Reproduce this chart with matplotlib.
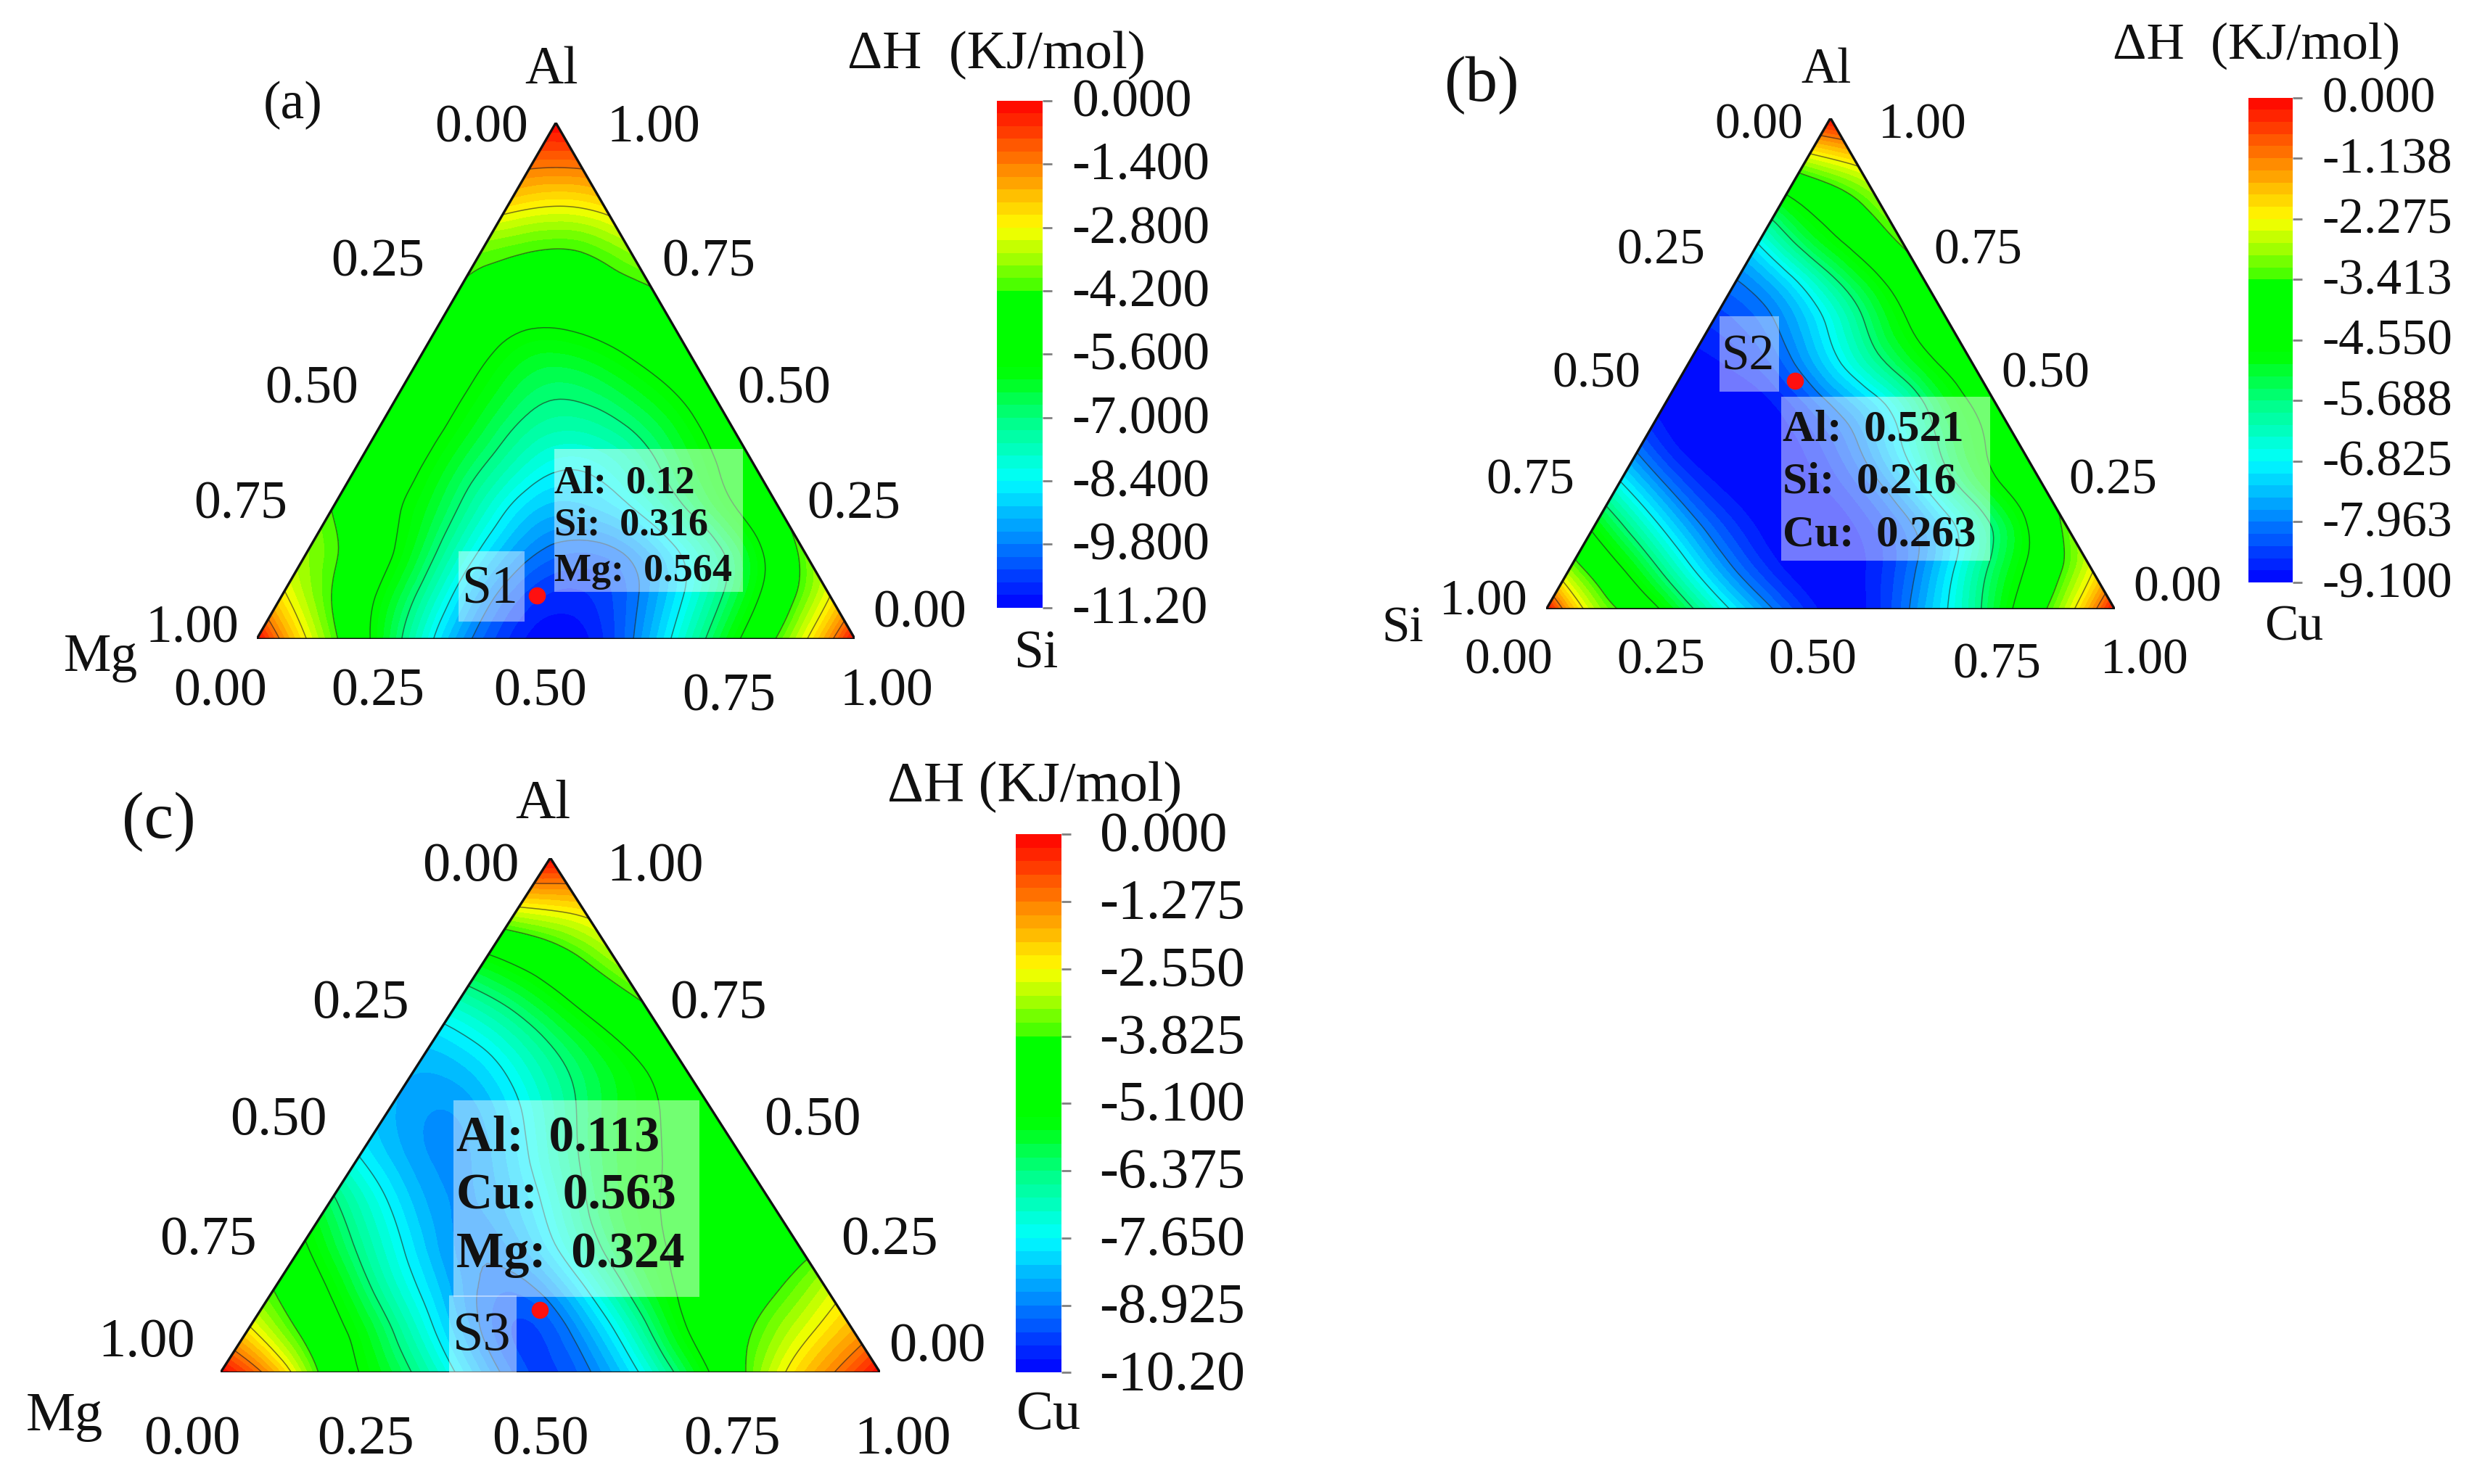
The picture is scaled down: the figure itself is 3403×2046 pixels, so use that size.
import numpy as np
import matplotlib
matplotlib.use("Agg")
import matplotlib.pyplot as plt
from matplotlib.colors import LinearSegmentedColormap
from matplotlib.patches import Rectangle
from matplotlib.transforms import ScaledTranslation
from matplotlib.tri import Triangulation, UniformTriRefiner, CubicTriInterpolator

plt.rcParams['font.family'] = ['Liberation Serif', 'DejaVu Serif']

# enthalpy, one row per Al level (0, 1/12 ... 1), left edge to right edge
rows_a = [
    [0, -2.8, -5, -7.2, -9.3, -10.6, -11.2, -10.6, -9, -7, -5, -2.9, 0],
    [-2.6, -4.2, -5.8, -7.6, -9.4, -10.5, -10.7, -10, -8.5, -6.7, -4.8, -2.8],
    [-3.6, -4.6, -6, -7.7, -9.2, -10, -10, -9.1, -7.6, -5.9, -3.9],
    [-4.2, -5.2, -6.3, -7.7, -8.9, -9.1, -8.5, -7.2, -5.8, -4.3],
    [-4.5, -5.3, -6.4, -7.5, -8.3, -8.1, -7.1, -5.9, -4.7],
    [-4.6, -5.3, -6.3, -7.2, -7.4, -6.9, -6, -4.8],
    [-4.6, -5.3, -6.2, -6.7, -6.4, -5.7, -4.8],
    [-4.5, -5.2, -5.8, -5.7, -5.2, -4.5],
    [-4.3, -4.8, -4.9, -4.7, -4.3],
    [-3.9, -4.2, -4.2, -3.6],
    [-2.6, -2.9, -2.6],
    [-1.3, -1.3],
    [0],
]
rows_b = [
    [0, -2.7, -4, -5.5, -7, -8.2, -9, -8.7, -7.5, -6, -4.3, -2.6, 0],
    [-3, -4.4, -5.9, -7.4, -8.5, -9.1, -9, -8.3, -7, -5.4, -4, -2.4],
    [-4.7, -6.2, -7.6, -8.6, -9.1, -9.1, -8.6, -7.7, -6.3, -4.8, -3.2],
    [-6.6, -7.9, -8.8, -9.1, -9, -8.5, -7.5, -6, -4.7, -3.7],
    [-8.2, -9, -9.1, -9, -8.5, -7.5, -6.1, -4.8, -4],
    [-9, -9.1, -9, -8.4, -7.5, -6.4, -5, -4.2],
    [-9, -8.8, -8.2, -7.1, -5.9, -4.8, -4],
    [-8.6, -8.2, -7.3, -6, -4.7, -3.9],
    [-8, -7.2, -5.9, -4.7, -3.7],
    [-6.7, -5.3, -4.3, -3.3],
    [-4.8, -3.9, -3],
    [-2.6, -2],
    [0],
]
rows_c = [
    [0, -1.8, -4.3, -5.7, -7.2, -8.8, -9.5, -8.6, -6.9, -4.9, -3, -1.5, 0],
    [-2.4, -4, -5.4, -7, -8.6, -9.5, -8.7, -7, -5.1, -4, -2.9, -1.8],
    [-3.9, -5.2, -6.8, -8.2, -9.1, -8.6, -7, -5.4, -4.6, -4, -3],
    [-5, -6.5, -7.9, -8.8, -8.4, -7, -5.6, -4.9, -4.6, -4.2],
    [-6.2, -7.6, -8.6, -8.5, -7.4, -5.9, -5.1, -4.8, -4.7],
    [-7.6, -8.5, -8.7, -7.8, -6.4, -5.4, -4.9, -4.6],
    [-8.3, -8.7, -8.2, -7, -5.8, -5.1, -4.6],
    [-8.4, -8.2, -7.3, -6.2, -5.3, -4.6],
    [-7.8, -7.1, -6.1, -5.1, -4.2],
    [-6.4, -5.6, -4.6, -3.6],
    [-4.6, -3.9, -3],
    [-2.2, -2],
    [0],
]

ticks_a = [0.000, -1.400, -2.800, -4.200, -5.600, -7.000, -8.400, -9.800, -11.20]
ticks_b = [0.000, -1.138, -2.275, -3.413, -4.550, -5.688, -6.825, -7.963, -9.100]
ticks_c = [0.000, -1.275, -2.550, -3.825, -5.100, -6.375, -7.650, -8.925, -10.20]
labels_a = ["0.000", "-1.400", "-2.800", "-4.200", "-5.600", "-7.000", "-8.400", "-9.800", "-11.20"]
labels_b = ["0.000", "-1.138", "-2.275", "-3.413", "-4.550", "-5.688", "-6.825", "-7.963", "-9.100"]
labels_c = ["0.000", "-1.275", "-2.550", "-3.825", "-5.100", "-6.375", "-7.650", "-8.925", "-10.20"]

# red dots, (fraction along the base, fraction of height)
dot_a = (0.468, 0.085)
dot_b = (0.438, 0.465)
dot_c = (0.484, 0.122)

info_a = ["Al:  0.12", "Si:  0.316", "Mg:  0.564"]
info_b = ["Al:  0.521", "Si:  0.216", "Cu:  0.263"]
info_c = ["Al:  0.113", "Cu:  0.563", "Mg:  0.324"]

W, H = 3403, 2046
# layout below is measured on a 1568 wide copy of the picture
SX = 1568.0
SY = SX * H / W

fig = plt.figure(figsize=(W / 100, H / 100), dpi=100, facecolor="white")

cmap = LinearSegmentedColormap.from_list("tec", [
    (0.0, "#0000ff"), (0.125, "#0080ff"), (0.25, "#00ffff"), (0.375, "#00ff80"),
    (0.47, "#00ff00"), (0.625, "#00ff00"), (0.64, "#50ff00"), (0.75, "#ffff00"),
    (0.875, "#ff8000"), (1.0, "#ff0000"),
])


def fx(x):
    return x / SX


def fy(y):
    return 1 - y / SY


def add_axes_px(x0, y0, x1, y1):
    # y0 is the top edge, y1 the bottom edge
    return fig.add_axes([fx(x0), fy(y1), fx(x1) - fx(x0), fy(y0) - fy(y1)])


def label(x, y, s, size, **kw):
    fig.text(fx(x), fy(y + 2), s, fontsize=size, ha=kw.pop("ha", "center"), va="center",
             color="#111111", **kw)


def panel(rows, ticks, tick_labels, dot, tri_box, cb_box, cb_pad, cb_size):
    ax = add_axes_px(*tri_box)
    xs, ys, zs = [], [], []
    for r, row in enumerate(rows):
        for i, v in enumerate(row):
            xs.append((i + r / 2) / 12)
            ys.append(r / 12 * np.sqrt(3) / 2)
            zs.append(v)
    zs = np.array(zs, dtype=float)
    tri = Triangulation(np.array(xs), np.array(ys))
    interp = CubicTriInterpolator(tri, zs, kind="min_E")
    tri2, z2 = UniformTriRefiner(tri).refine_field(zs, interp, subdiv=3)
    vmin, vmax = ticks[-1], ticks[0]
    z2 = np.clip(np.ma.filled(z2, vmin), vmin + 1e-6, vmax - 1e-6)
    cf = ax.tricontourf(tri2, z2, levels=np.linspace(vmin, vmax, 41), cmap=cmap)
    ax.tricontour(tri2, z2, levels=sorted(ticks[1:-1]), colors="#222222", linewidths=1.1,
                  linestyles="-", alpha=0.6)
    ax.plot([0, 1, 0.5, 0], [0, 0, np.sqrt(3) / 2, 0], color="#111111", lw=2.4)
    ax.plot(dot[0], dot[1] * np.sqrt(3) / 2, "o", color="#ff1010", ms=17, mew=0, zorder=5)
    ax.set_xlim(0, 1)
    ax.set_ylim(0, np.sqrt(3) / 2)
    ax.axis("off")

    cax = add_axes_px(*cb_box)
    cb = fig.colorbar(cf, cax=cax, ticks=ticks)
    cb.outline.set_visible(False)
    cax.set_yticklabels(tick_labels)
    cax.tick_params(axis="y", length=9, width=2, color="#808080", pad=cb_pad, labelsize=cb_size,
                    labelcolor="#111111")
    # labels sit a little above their ticks in the original
    shift = ScaledTranslation(0, 3 / 72, fig.dpi_scale_trans)
    for t in cax.get_yticklabels():
        t.set_transform(t.get_transform() + shift)
    return ax


def box(x0, y0, x1, y1):
    fig.add_artist(Rectangle((fx(x0), fy(y1)), fx(x1) - fx(x0), fy(y0) - fy(y1), transform=fig.transFigure,
                             facecolor="white", alpha=0.45, edgecolor="none", zorder=2))


# (a)
panel(rows_a, ticks_a, labels_a, dot_a, (163, 78, 543, 406), (633, 64, 662, 386), 20, 53)
for x, y, s in [(306, 80, "0.00"), (415, 80, "1.00"), (240, 165, "0.25"), (450, 165, "0.75"),
                (198, 246, "0.50"), (498, 246, "0.50"), (153, 319, "0.75"), (542, 319, "0.25"),
                (122, 398, "1.00"), (584, 388, "0.00"), (140, 438, "0.00"), (240, 438, "0.25"),
                (343, 438, "0.50"), (463, 441, "0.75"), (563, 438, "1.00")]:
    label(x, y, s, 53)
label(350, 43, "Al", 53)
label(186, 65, "(a)", 53)
label(64, 416, "Mg", 53)
label(658, 414, "Si", 53)
label(633, 33, "ΔH  (KJ/mol)", 54)
box(352, 285, 472, 376)
box(291, 350, 333, 395)
label(311, 373, "S1", 53)
for y, s in zip([305, 332, 361], info_a):
    label(352, y, s, 39, ha="left", fontweight="bold")

# (b)
panel(rows_b, ticks_b, labels_b, dot_b, (982, 75, 1343, 387), (1428, 62, 1456, 370), 20, 50)
for x, y, s in [(1117, 78, "0.00"), (1221, 78, "1.00"), (1055, 158, "0.25"), (1256, 158, "0.75"),
                (1014, 236, "0.50"), (1299, 236, "0.50"), (972, 304, "0.75"), (1342, 304, "0.25"),
                (942, 381, "1.00"), (1383, 372, "0.00"), (958, 418, "0.00"), (1055, 418, "0.25"),
                (1151, 418, "0.50"), (1268, 421, "0.75"), (1362, 418, "1.00")]:
    label(x, y, s, 50)
label(1160, 43, "Al", 50)
label(941, 52, "(b)", 64)
label(891, 398, "Si", 50)
label(1457, 397, "Cu", 50)
label(1433, 27, "ΔH  (KJ/mol)", 52)
box(1131, 252, 1264, 356)
box(1092, 201, 1130, 249)
label(1110, 225, "S2", 50)
for y, s in zip([271, 304, 338], info_b):
    label(1132, y, s, 44, ha="left", fontweight="bold")

# (c)
panel(rows_c, ticks_c, labels_c, dot_c, (140, 545, 559, 872), (645, 530, 674, 872), 29, 56)
for x, y, s in [(299, 549, "0.00"), (416, 549, "1.00"), (229, 636, "0.25"), (456, 636, "0.75"),
                (177, 710, "0.50"), (516, 710, "0.50"), (132, 786, "0.75"), (565, 786, "0.25"),
                (93, 851, "1.00"), (595, 854, "0.00"), (122, 913, "0.00"), (232, 913, "0.25"),
                (343, 913, "0.50"), (465, 913, "0.75"), (573, 913, "1.00")]:
    label(x, y, s, 55)
label(345, 509, "Al", 55)
label(101, 520, "(c)", 66)
label(41, 898, "Mg", 55)
label(666, 897, "Cu", 55)
label(657, 498, "ΔH (KJ/mol)", 56)
box(288, 699, 444, 824)
box(285, 823, 328, 872)
label(306, 847, "S3", 55)
for y, s in zip([721, 758, 795], info_c):
    label(290, y, s, 50, ha="left", fontweight="bold")

fig.savefig("out.png", dpi=100, facecolor="white")
